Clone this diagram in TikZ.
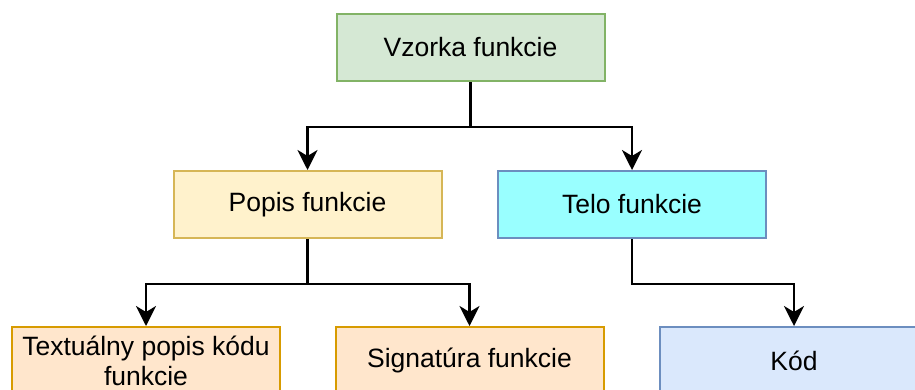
\documentclass[tikz,border=0pt]{standalone}
\usepackage{fontspec}
\setmainfont{Liberation Sans}
\usetikzlibrary{arrows.meta}
\definecolor{gfill}{HTML}{D5E8D4}\definecolor{gdraw}{HTML}{82B366}
\definecolor{yfill}{HTML}{FFF2CC}\definecolor{ydraw}{HTML}{D6B656}
\definecolor{cfill}{HTML}{99FFFF}\definecolor{bdraw}{HTML}{6C8EBF}
\definecolor{ofill}{HTML}{FFE6CC}\definecolor{odraw}{HTML}{D79B00}
\definecolor{bfill}{HTML}{DAE8FC}
\begin{document}
\begin{tikzpicture}[x=1pt,y=-1pt,
  box/.style={draw,line width=2pt,minimum width=268pt,minimum height=67pt,inner sep=0pt,
    font=\fontsize{26.5}{30}\selectfont,align=center},
  conn/.style={line width=2.6pt,line join=miter,-{Stealth[length=20pt,width=20pt,inset=6pt]}}]
\useasboundingbox (0,0) rectangle (915,389);
\clip (0,0) rectangle (915,389);
\fill[white] (0,0) rectangle (915,389);
\node[box,fill=gfill,draw=gdraw] (vz) at (470.5,47.5) {Vzorka funkcie};
\node[box,fill=yfill,draw=ydraw] (po) at (307.5,204.5) {Popis funkcie};
\node[box,fill=cfill,draw=bdraw] (te) at (632,204.5) {Telo funkcie};
\node[box,fill=ofill,draw=odraw] (tx) at (146,360.5) {Textuálny popis kódu\\funkcie};
\node[box,fill=ofill,draw=odraw] (si) at (469.5,360.5) {Signatúra funkcie};
\node[box,fill=bfill,draw=bdraw] (ko) at (794,360.5) {Kód};
\draw[conn] (vz.south) -- ++(0,45) -| (po.north);
\draw[conn] (vz.south) -- ++(0,45) -| (te.north);
\draw[conn] (po.south) -- ++(0,45) -| (tx.north);
\draw[conn] (po.south) -- ++(0,45) -| (si.north);
\draw[conn] (te.south) -- ++(0,45) -| (ko.north);
\end{tikzpicture}
\end{document}
